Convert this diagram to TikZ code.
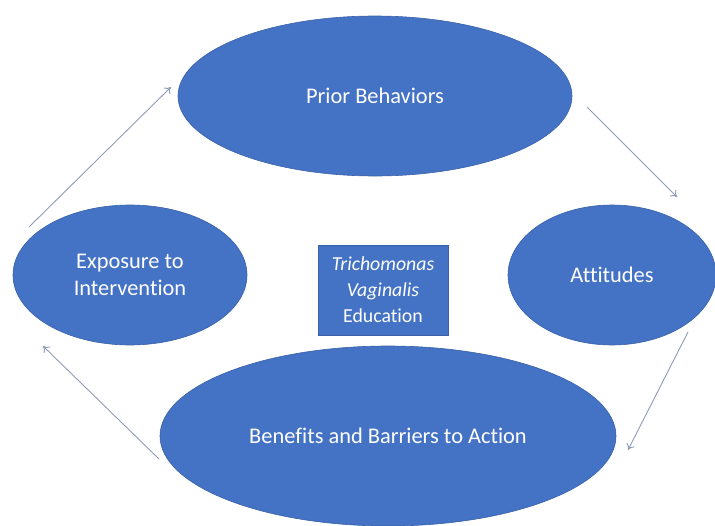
\documentclass[tikz,border=0pt]{standalone}
\usepackage{fontspec}
\setmainfont{Carlito}[Ligatures=NoCommon]
\usetikzlibrary{shapes.geometric,arrows.meta}
\definecolor{fillblue}{HTML}{4472C4}
\definecolor{edgeblue}{HTML}{3A62A8}
\definecolor{arrowgray}{HTML}{8E9AB6}
\begin{document}
\begin{tikzpicture}[x=1pt,y=-1pt,
  stage/.style={ellipse, fill=fillblue, draw=edgeblue, line width=0.6pt,
    text=white, font=\fontsize{22.4}{27.5}\selectfont, align=center, inner sep=0pt},
  centrebox/.style={rectangle, fill=fillblue, draw=edgeblue, line width=0.6pt,
    text=white, font=\fontsize{19.8}{26}\selectfont, align=center, inner sep=0pt},
  flow/.style={draw=arrowgray, line width=0.9pt, -{To[length=6pt,width=9pt]}}]
\useasboundingbox (0,0) rectangle (715,525);

% the four stages of the cycle
\node[stage, minimum width=394pt, minimum height=160pt] (prior) at (375,96) {Prior Behaviors};
\node[stage, minimum width=208pt, minimum height=140pt] (att) at (612,275) {Attitudes};
\node[stage, minimum width=456pt, minimum height=180pt] (ben) at (388,436) {Benefits and Barriers to Action};
\node[stage, minimum width=234pt, minimum height=140pt] (expo) at (130,275) {Exposure to\\Intervention};

% central topic
\node[centrebox, minimum width=130pt, minimum height=90pt] (topic) at (383,290)
  {\textit{Trichomonas}\\\textit{Vaginalis}\\Education};

% arrow end points between the stages
\coordinate (a1s) at (29,227);  \coordinate (a1e) at (171,87);
\coordinate (a2s) at (587,107); \coordinate (a2e) at (677,197);
\coordinate (a3s) at (688,332); \coordinate (a3e) at (628,450);
\coordinate (a4s) at (159,459); \coordinate (a4e) at (43,346);

\draw[flow] (a1s) -- (a1e);
\draw[flow] (a2s) -- (a2e);
\draw[flow] (a3s) -- (a3e);
\draw[flow] (a4s) -- (a4e);
\end{tikzpicture}
\end{document}
